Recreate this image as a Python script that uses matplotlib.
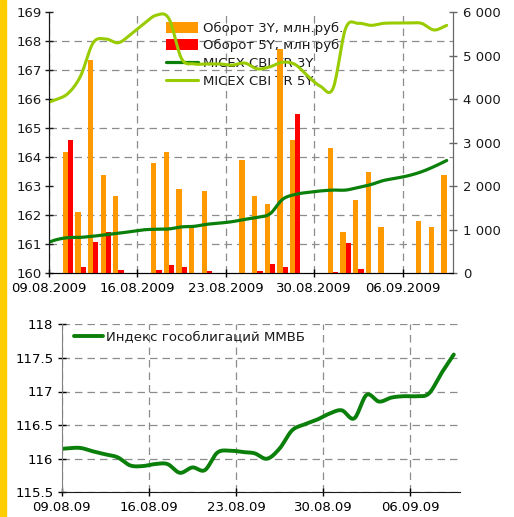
import numpy as np
import pandas as pd
import matplotlib
matplotlib.use("Agg")
import matplotlib.pyplot as plt
import matplotlib.dates as mdates
from matplotlib.ticker import FuncFormatter, MultipleLocator

# -------------------- data --------------------
trade_days = ["2009-08-10", "2009-08-11", "2009-08-12", "2009-08-13", "2009-08-14",
              "2009-08-17", "2009-08-18", "2009-08-19", "2009-08-20", "2009-08-21",
              "2009-08-24", "2009-08-25", "2009-08-26", "2009-08-27", "2009-08-28",
              "2009-08-31", "2009-09-01", "2009-09-02", "2009-09-03", "2009-09-04",
              "2009-09-07", "2009-09-08", "2009-09-09"]
turnover_3y = [2780, 1410, 4905, 2268, 1778,
               2536, 2789, 1940, 1050, 1893,
               2606, 1778, 1594, 5157, 3065,
               2889, 950, 1686, 2330, 1065,
               1203, 1065, 2268]
turnover_5y = [3067, 153, 720, 958, 77,
               77, 190, 150, 0, 50,
               0, 50, 215, 153, 3663,
               30, 697, 100, 0, 0,
               0, 0, 0]

# daily index values, 08.08.2009 .. 09.09.2009
line_start, line_end = "2009-08-08", "2009-09-09"
cbi_3y = [161.00, 161.15, 161.23, 161.24, 161.28, 161.33, 161.38, 161.44, 161.50,
          161.52, 161.53, 161.60, 161.62, 161.69, 161.73, 161.78, 161.86, 161.93,
          162.05, 162.55, 162.72, 162.79, 162.84, 162.87, 162.87, 162.96, 163.06,
          163.20, 163.28, 163.37, 163.50, 163.68, 163.89]
cbi_5y = [165.82, 165.98, 166.20, 166.80, 167.95, 168.08, 167.95, 168.25, 168.60,
          168.90, 168.78, 167.40, 167.22, 167.22, 167.22, 167.18, 167.25, 167.05,
          167.12, 167.28, 167.20, 166.80, 166.45, 166.38, 168.45, 168.62, 168.55,
          168.62, 168.63, 168.63, 168.62, 168.39, 168.55]
mmvb = [116.14, 116.155, 116.16, 116.11, 116.065, 116.02, 115.90, 115.89, 115.92,
        115.92, 115.79, 115.87, 115.83, 116.09, 116.12, 116.10, 116.08, 116.00,
        116.15, 116.42, 116.51, 116.58, 116.67, 116.72, 116.60, 116.95, 116.85,
        116.91, 116.93, 116.93, 116.97, 117.27, 117.55]

week_ticks = ["2009-08-09", "2009-08-16", "2009-08-23", "2009-08-30", "2009-09-06"]
x_range = ("2009-08-09", "2009-09-10")

ORANGE = "#FF9900"
RED = "#FF0000"
DKGREEN = "#0A7F0A"
LTGREEN = "#99CC00"
GRID = "#8C8C8C"
DASH = (0, (6, 4))


# -------------------- util --------------------
def smooth(x, y, n=16):
    """Catmull-Rom, close to Excel's 'smoothed line'."""
    x = np.asarray(x, float)
    y = np.asarray(y, float)
    px = np.concatenate([[2 * x[0] - x[1]], x, [2 * x[-1] - x[-2]]])
    py = np.concatenate([[2 * y[0] - y[1]], y, [2 * y[-1] - y[-2]]])
    xs, ys = [], []
    t = np.linspace(0, 1, n, endpoint=False)
    for i in range(1, len(px) - 2):
        for arr, out in ((px, xs), (py, ys)):
            p0, p1, p2, p3 = arr[i - 1], arr[i], arr[i + 1], arr[i + 2]
            out.extend(0.5 * (2 * p1 + (-p0 + p2) * t + (2 * p0 - 5 * p1 + 4 * p2 - p3) * t**2
                              + (-p0 + 3 * p1 - 3 * p2 + p3) * t**3))
    xs.append(x[-1])
    ys.append(y[-1])
    return np.array(xs), np.array(ys)


def dn(s):
    return mdates.date2num(pd.to_datetime(s))


plt.rcParams["font.family"] = "DejaVu Sans"
plt.rcParams["font.size"] = 9.5
plt.rcParams["text.color"] = "#1a1a1a"

fig = plt.figure(figsize=(5.14, 5.17), dpi=100)
fig.patches.append(plt.Rectangle((0, 0), 6 / 514, 1, transform=fig.transFigure,
                                 color="#FFCC00", zorder=0))

days_line = mdates.date2num(pd.date_range(line_start, line_end)) + 0.5
days_bar = np.array([dn(d) for d in trade_days]) + 0.5
ticks = [dn(d) for d in week_ticks]
xmin, xmax = dn(x_range[0]), dn(x_range[1])

# -------------------- top chart --------------------
axb = fig.add_axes([49 / 514, 1 - 273.3 / 517, 404 / 514, 261 / 517])   # bars, right scale
axl = axb.twinx()                                                       # lines, left scale
axb.yaxis.tick_right()
axl.yaxis.tick_left()

w = 0.42
b1 = axb.bar(days_bar - w / 2, turnover_3y, width=w, color=ORANGE, zorder=6,
             label="Оборот 3Y, млн.руб.")
b2 = axb.bar(days_bar + w / 2, turnover_5y, width=w, color=RED, zorder=6,
             label="Оборот 5Y, млн руб.")
axb.set_ylim(0, 6000)
axb.yaxis.set_major_locator(MultipleLocator(1000))
axb.yaxis.set_major_formatter(FuncFormatter(lambda v, p: f"{int(v):,}".replace(",", " ")))
# horizontal grid that matches the left scale (160..169)
axb.set_yticks(np.linspace(0, 6000, 10), minor=True)
axb.grid(True, axis="y", which="minor", color=GRID, linestyle=DASH, linewidth=0.9)
axb.tick_params(axis="y", which="minor", length=0)
axb.set_xticks(ticks)
axb.grid(True, axis="x", which="major", color=GRID, linestyle=DASH, linewidth=0.9)
axb.set_axisbelow(True)

xs, ys = smooth(days_line, cbi_3y)
l1, = axl.plot(xs, ys, color=DKGREEN, lw=2.3, label="MICEX CBI TR 3Y", solid_capstyle="round")
xs, ys = smooth(days_line, cbi_5y)
l2, = axl.plot(xs, ys, color=LTGREEN, lw=2.2, label="MICEX CBI TR 5Y", solid_capstyle="round")
axl.set_ylim(160, 169)
axl.yaxis.set_major_locator(MultipleLocator(1))
axl.set_xlim(xmin, xmax)
axb.set_xlim(xmin, xmax)

axb.xaxis.set_major_formatter(mdates.DateFormatter("%d.%m.%Y"))
for a in (axb, axl):
    a.spines["top"].set_visible(False)
    a.tick_params(axis="both", which="major", direction="inout", length=6, width=1)
axb.tick_params(axis="y", colors="#666666", labelcolor="#1a1a1a", pad=4)
axl.tick_params(axis="y", colors="#1a1a1a", pad=2)
axb.tick_params(axis="x", pad=3)
axl.spines["left"].set_color("#1a1a1a")
axb.spines["bottom"].set_color("#1a1a1a")
axl.spines["right"].set_color("#666666")
axb.spines["right"].set_color("#666666")

leg = axb.legend([b1, b2, l1, l2], [b1.get_label(), b2.get_label(), l1.get_label(), l2.get_label()],
                 loc="upper left", bbox_to_anchor=(0.267, 1.0), frameon=False,
                 handlelength=2.4, handleheight=0.9, handletextpad=0.4,
                 labelspacing=0.35, borderaxespad=0.3, fontsize=9.5)
leg.set_zorder(5)

# -------------------- bottom chart --------------------
ax2 = fig.add_axes([61.7 / 514, 1 - 492.3 / 517, 398.3 / 514, 168 / 517])
xs, ys = smooth(days_line, mmvb)
ax2.plot(xs, ys, color=DKGREEN, lw=2.8, label="Индекс гособлигаций ММВБ", solid_capstyle="round")
ax2.set_xlim(xmin, xmax)
ax2.set_ylim(115.5, 118)
ax2.yaxis.set_major_locator(MultipleLocator(0.5))
ax2.yaxis.set_major_formatter(FuncFormatter(lambda v, p: f"{v:g}"))
ax2.set_xticks(ticks)
ax2.xaxis.set_major_formatter(mdates.DateFormatter("%d.%m.%y"))
ax2.grid(True, which="major", color=GRID, linestyle=DASH, linewidth=0.9)
ax2.set_axisbelow(True)
for s in ("top", "right"):
    ax2.spines[s].set_visible(False)
ax2.spines["left"].set_color("#808080")
ax2.spines["bottom"].set_color("#1a1a1a")
ax2.tick_params(axis="both", direction="inout", length=6, width=1, pad=3)
ax2.legend(loc="upper left", bbox_to_anchor=(0.0, 1.035), frameon=False,
           handlelength=2.2, handletextpad=0.25, fontsize=9.5)

fig.savefig("out.png", dpi=100)
